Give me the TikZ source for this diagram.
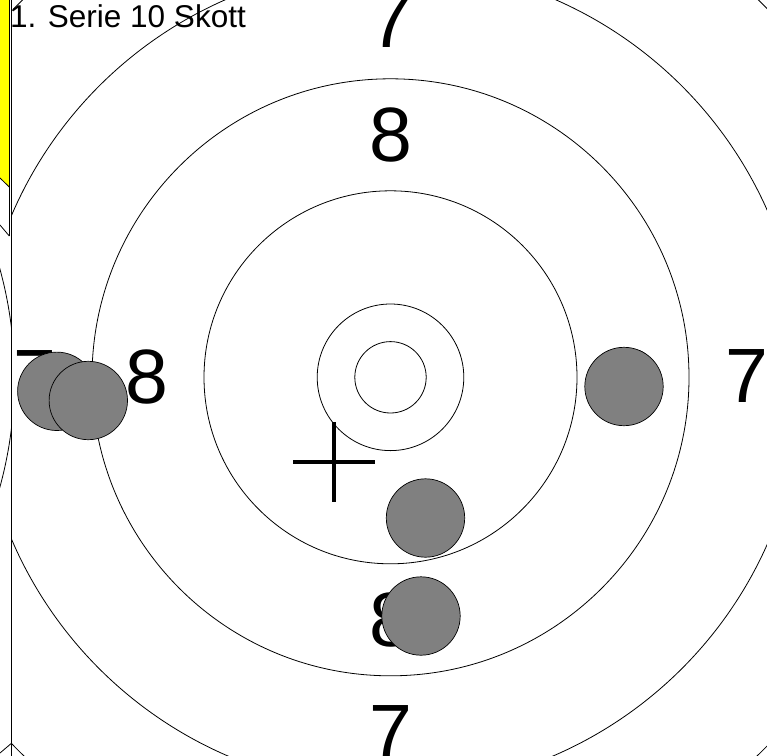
\documentclass[tikz,border=0pt]{standalone}
\usepackage{fontspec}
\setmainfont{Liberation Sans}
\definecolor{shotgray}{RGB}{128,128,128}
\definecolor{panelyellow}{RGB}{255,255,0}
\begin{document}
\begin{tikzpicture}[x=1pt,y=-1pt,
  ring/.style={draw=black,line width=0.8pt},
  shot/.style={circle,draw=black,line width=0.7pt,fill=shotgray,minimum size=78.4pt,inner sep=0pt},
  lbl/.style={font=\fontsize{77}{77}\selectfont,inner sep=0pt},
  cross/.style={draw=black,line width=3.3pt},
  frame/.style={draw=black,line width=0.8pt}]
\fill[white] (0,0) rectangle (767,755);
\useasboundingbox (0,0) rectangle (767,755);
\begin{scope}
\clip (0,0) rectangle (767,755);
% left panel
\fill[panelyellow] (0,-2) -- (9.3,-2) -- (9.3,187) -- (0,178) -- cycle;
\draw[frame] (9.3,-2) -- (9.3,236);
\draw[frame] (9.3,187) -- (0,178);
\draw[frame] (0,225) -- (9.3,236);
\draw[frame] (0,753) -- (11.2,743.5);
\begin{scope}
\clip (0,0) rectangle (11,755);
\draw[ring] (-397.5,378) circle (412pt);
\end{scope}
\draw[frame] (11,-2) -- (11,757);
% target rings
\coordinate (c) at (390.5,377.3);
\begin{scope}
\clip (11.4,0) rectangle (767,755);
\foreach \r in {35.7,73.3,186.5,298.5,412,527} \draw[ring] (c) circle (\r pt);
\end{scope}
% ring labels
\node[lbl] (t7top) at (391,21) {7};
\node[lbl] (t7right) at (746.5,376.5) {7};
\node[lbl] (t7bottom) at (391,732) {7};
\node[lbl] (t7left) at (35,377) {7};
\node[lbl] (t8top) at (391.3,134.5) {8};
\node[lbl] (t8left) at (146.7,376.7) {8};
\node[lbl] (t8right) at (633,377) {8};
\node[lbl] (t8bottom) at (391,620) {8};
% title
\node[anchor=base west,font=\fontsize{31.5}{31.5}\selectfont,inner sep=0pt] (title) at (9.8,27) {1. Serie 10 Skott};
% crosshair
\coordinate (chL) at (293,462);
\coordinate (chR) at (375,462);
\coordinate (chT) at (334,422);
\coordinate (chB) at (334,502);
\draw[cross] (chL) -- (chR);
\draw[cross] (chT) -- (chB);
% shots
\node[shot] (s1) at (56.8,391.3) {};
\node[shot] (s2) at (88.3,400.5) {};
\node[shot] (s3) at (624,386.5) {};
\node[shot] (s4) at (425.5,518) {};
\node[shot] (s5) at (421,616) {};
\end{scope}
\end{tikzpicture}
\end{document}
